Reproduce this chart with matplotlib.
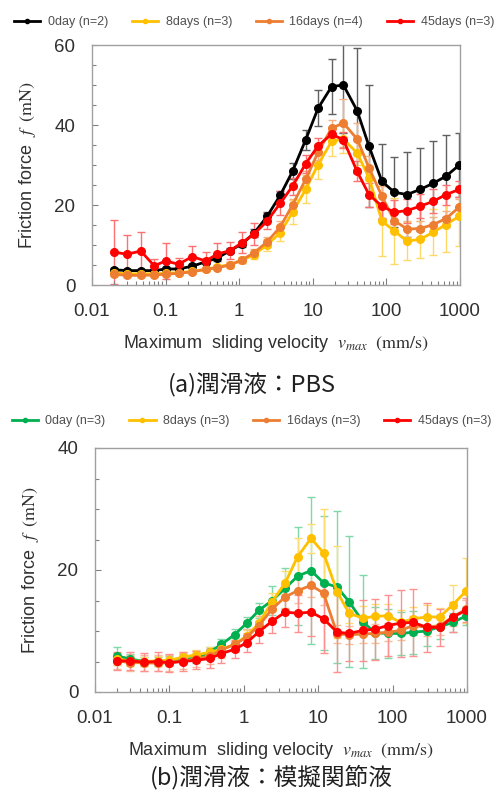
import matplotlib
matplotlib.use('Agg')
import matplotlib.pyplot as plt
from matplotlib.lines import Line2D
from matplotlib.ticker import LogLocator, MultipleLocator, FixedLocator, FixedFormatter, NullFormatter

plt.rcParams['font.family'] = ['Liberation Sans', 'DejaVu Sans']
plt.rcParams['mathtext.fontset'] = 'stix'

# 最大すべり速度 (mm/s)
vel = [0.02, 0.03, 0.046, 0.07, 0.1, 0.15, 0.23, 0.35, 0.5, 0.75, 1.1, 1.6, 2.4, 3.6,
       5.3, 8.0, 11.8, 18, 26, 40, 58, 87, 128, 190, 288, 430, 645, 980]

# (a) PBS
pbs_labels = ['0day (n=2)', '8days (n=3)', '16days (n=4)', '45days (n=3)']
pbs_0d = [3.8, 3.6, 3.6, 3.6, 4.0, 4.0, 4.7, 5.8, 6.7, 8.6, 10.3, 13.0, 17.2, 22.4,
          28.4, 36.3, 44.2, 49.6, 50.0, 43.6, 34.7, 25.9, 23.2, 22.6, 23.9, 25.4, 27.2, 30.0]
pbs_0d_err = [0.5, 0.5, 0.5, 0.5, 0.5, 0.5, 0.5, 0.6, 0.6, 0.7, 0.8, 0.9, 1.0, 1.0,
              2.0, 2.5, 4.5, 6.8, 12, 15.6, 15.2, 9.4, 8.8, 10.6, 10.3, 10.5, 10.2, 8.0]
pbs_8d = [3.0, 2.8, 2.8, 2.8, 2.9, 3.1, 3.4, 3.9, 4.5, 5.1, 6.2, 7.6, 10.1, 13.0,
          18.2, 23.9, 30.1, 35.9, 36.5, 33.0, 26.8, 16.0, 13.5, 11.0, 11.4, 13.2, 15.1, 17.2]
pbs_8d_err = [0.5, 0.5, 0.5, 0.5, 0.5, 0.5, 0.5, 0.5, 0.6, 0.7, 0.8, 1.0, 1.5, 2.0,
              3.0, 3.5, 3.5, 3.7, 3.5, 3.0, 3.0, 8.75, 8.25, 4.75, 4.7, 5.7, 6.8, 7.5]
pbs_16d = [2.7, 2.4, 2.4, 2.5, 2.7, 2.9, 3.3, 3.9, 4.3, 5.0, 6.3, 8.1, 10.8, 14.5,
           20.0, 26.4, 33.2, 39.2, 40.5, 36.5, 29.3, 22.2, 16.1, 14.0, 14.1, 15.1, 16.6, 19.5]
pbs_16d_err = [0.5, 0.5, 0.5, 0.5, 0.5, 0.5, 0.5, 0.5, 0.6, 0.7, 0.8, 1.0, 1.2, 1.5,
               1.5, 2.0, 2.0, 2.0, 6.0, 4.0, 3.0, 2.5, 2.0, 2.0, 2.0, 2.0, 2.0, 2.0]
pbs_45d = [8.2, 7.7, 8.5, 4.8, 6.0, 5.2, 7.1, 6.0, 7.7, 8.6, 10.6, 12.8, 16.0, 20.4,
           24.7, 30.3, 34.8, 37.7, 36.3, 28.4, 22.6, 19.7, 18.2, 18.6, 19.7, 20.9, 22.6, 23.9]
pbs_45d_err = [8.0, 4.8, 4.8, 1.7, 4.4, 1.6, 2.7, 2.3, 2.9, 2.2, 2.7, 2.7, 2.0, 3.0,
               2.1, 2.3, 1.9, 1.5, 2.0, 2.5, 3.0, 3.0, 3.0, 3.0, 3.0, 3.0, 2.5, 2.0]

# (b) 模擬関節液
syn_labels = ['0day (n=3)', '8days (n=3)', '16days (n=3)', '45days (n=3)']
syn_0d = [5.9, 5.4, 5.0, 5.0, 5.1, 5.4, 5.5, 6.6, 7.8, 9.4, 11.3, 13.4, 15.0, 17.0,
          19.0, 19.9, 17.9, 17.2, 14.8, 11.5, 9.7, 9.6, 9.6, 9.8, 10.0, 10.7, 11.4, 12.5]
syn_0d_err = [1.5, 0.9, 0.8, 0.8, 0.8, 0.8, 0.8, 0.8, 0.9, 1.0, 1.0, 1.2, 2.3, 3.4,
              8.0, 12.0, 11.0, 12.5, 10.7, 7.6, 4.3, 4.0, 3.5, 3.5, 2.5, 2.0, 1.5, 1.5]
syn_8d = [5.4, 5.1, 5.0, 5.1, 5.2, 5.7, 6.1, 6.5, 7.0, 7.8, 9.2, 11.3, 14.8, 17.9,
          22.2, 25.2, 22.8, 16.4, 12.9, 12.1, 12.4, 12.5, 11.4, 12.0, 12.3, 12.3, 14.3, 16.6]
syn_8d_err = [1.0, 0.8, 0.8, 0.8, 0.8, 0.8, 0.8, 0.8, 0.8, 1.0, 1.0, 1.2, 1.5, 2.0,
              3.0, 2.4, 7.2, 7.6, 1.6, 2.0, 2.0, 2.0, 2.0, 2.0, 2.0, 1.5, 3.2, 5.3]
syn_16d = [5.1, 4.8, 4.8, 4.7, 4.8, 5.1, 5.4, 5.9, 6.9, 7.8, 9.0, 10.9, 13.6, 15.6,
           16.6, 17.5, 16.2, 9.5, 9.4, 9.5, 9.6, 9.8, 10.1, 10.9, 10.6, 10.9, 12.3, 13.6]
syn_16d_err = [1.3, 1.3, 1.3, 1.3, 1.3, 1.3, 1.3, 1.3, 1.3, 1.3, 1.3, 1.5, 1.5, 1.8,
               2.0, 2.0, 2.0, 1.5, 1.5, 1.5, 1.5, 1.5, 1.5, 1.5, 1.5, 1.5, 1.5, 1.5]
syn_45d = [5.1, 5.1, 4.9, 5.0, 4.8, 5.0, 5.2, 5.5, 6.3, 7.0, 8.1, 9.9, 11.6, 13.1,
           12.9, 13.1, 12.0, 9.8, 9.6, 10.1, 10.3, 10.9, 11.3, 11.4, 10.6, 10.6, 12.3, 13.4]
syn_45d_err = [1.5, 1.5, 1.5, 1.5, 1.5, 1.5, 1.5, 1.5, 1.5, 1.5, 1.5, 1.8, 2.0, 2.5,
               3.0, 4.0, 5.6, 6.5, 4.5, 5.0, 5.0, 5.0, 5.5, 5.5, 4.0, 3.0, 2.5, 2.0]

colors_a = ['#000000', '#FFC000', '#ED7D31', '#FF0000']
ecolors_a = ['#606060', '#FFD966', '#F4B183', '#FF7070']
colors_b = ['#00B050', '#FFC000', '#ED7D31', '#FF0000']
ecolors_b = ['#80D8A8', '#FFDC70', '#F6BD98', '#FF9090']


def draw_panel(ax, series, errs, colors, ecolors, ymax):
    for y, e, c, ec in zip(series, errs, colors, ecolors):
        ax.errorbar(vel, y, yerr=e, fmt='none', ecolor=ec, elinewidth=1,
                    capsize=3, capthick=1, zorder=1)
    for y, c in zip(series, colors):
        ax.plot(vel, y, color=c, lw=2, marker='o', ms=5.5, zorder=3)
    ax.set_xscale('log')
    ax.set_xlim(0.01, 1000)
    ax.set_ylim(0, ymax)
    ax.yaxis.set_major_locator(MultipleLocator(20))
    ax.yaxis.set_minor_locator(MultipleLocator(5))
    ax.xaxis.set_major_locator(FixedLocator([0.01, 0.1, 1, 10, 100, 1000]))
    ax.xaxis.set_major_formatter(FixedFormatter(['0.01', '0.1', '1', '10', '100', '1000']))
    ax.xaxis.set_minor_locator(LogLocator(base=10, subs=range(2, 10)))
    ax.xaxis.set_minor_formatter(NullFormatter())
    ax.tick_params(which='both', direction='in', colors='#808080',
                   labelcolor='#303030', labelsize=13.5, width=0.8)
    ax.tick_params(axis='y', which='major', length=4, pad=12)
    ax.tick_params(axis='y', which='minor', length=3)
    ax.tick_params(axis='x', which='major', length=5, pad=13)
    ax.tick_params(axis='x', which='minor', length=3)
    for s in ax.spines.values():
        s.set_color('#A0A0A0')
        s.set_linewidth(1.0)
    ax.set_xlabel(r'Maximum  sliding velocity  $v_{max}\ \ \mathrm{(mm/s)}$',
                  fontsize=13, color='#303030', labelpad=9)
    ax.set_ylabel(r'Friction force  $f\ \ \mathrm{(mN)}$',
                  fontsize=13, color='#303030', labelpad=12)


fig = plt.figure(figsize=(4.98, 7.98), dpi=100)

ax1 = fig.add_axes([92 / 498, 1 - 285 / 798, 368 / 498, 240 / 798])
draw_panel(ax1, [pbs_0d, pbs_8d, pbs_16d, pbs_45d],
           [pbs_0d_err, pbs_8d_err, pbs_16d_err, pbs_45d_err],
           colors_a, ecolors_a, 60)

ax2 = fig.add_axes([95 / 498, 1 - 692 / 798, 372 / 498, 244 / 798])
draw_panel(ax2, [syn_0d, syn_8d, syn_16d, syn_45d],
           [syn_0d_err, syn_8d_err, syn_16d_err, syn_45d_err],
           colors_b, ecolors_b, 40)

leg_kw = dict(ncol=4, frameon=False, fontsize=9, handlelength=2.1,
              handletextpad=0.6, columnspacing=1.9, borderaxespad=0,
              labelcolor='#505050')
h1 = [Line2D([], [], color=c, lw=2, marker='o', ms=3) for c in colors_a]
h2 = [Line2D([], [], color=c, lw=2, marker='o', ms=3) for c in colors_b]
fig.legend(handles=h1, labels=pbs_labels, loc='center',
           bbox_to_anchor=(0.51, 1 - 22 / 798), **leg_kw)
fig.legend(handles=h2, labels=syn_labels, loc='center',
           bbox_to_anchor=(0.505, 1 - 421 / 798), **leg_kw)

fig.text(252 / 498, 1 - 385 / 798, '(a)潤滑液：PBS', ha='center', va='center',
         fontsize=17, family=['Noto Sans CJK JP', 'DejaVu Sans'], color='#202020')
fig.text(271 / 498, 1 - 777 / 798, '(b)潤滑液：模擬関節液', ha='center', va='center',
         fontsize=17, family=['Noto Sans CJK JP', 'DejaVu Sans'], color='#202020')

fig.savefig('out.png', dpi=100)
